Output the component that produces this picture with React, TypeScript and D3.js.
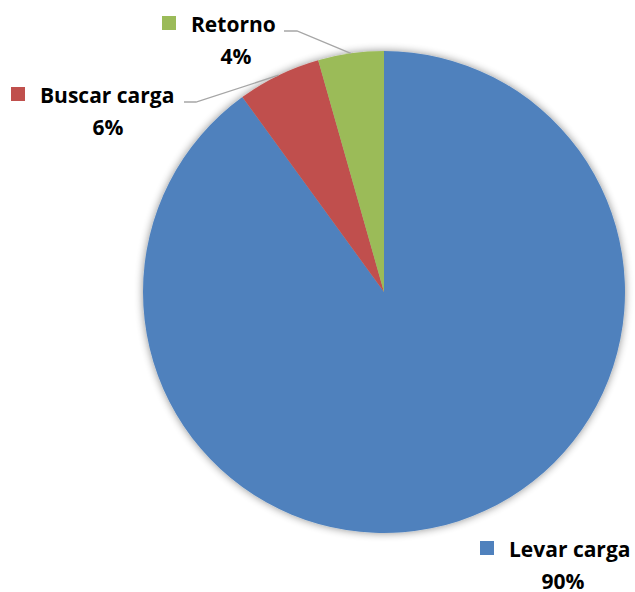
import React from "react";
import * as d3 from "d3";

const categories = ["Levar carga", "Buscar carga", "Retorno"];
const values = [90, 5.6, 4.4];
const percentLabels = ["90%", "6%", "4%"];
const colors = ["#4F81BD", "#C0504D", "#9BBB59"];

// label layout (x = text start, y = baseline of first line)
const labelLayout = [
  { x: 509, y: 557, leader: null as null | number[] },
  { x: 40, y: 103, leader: [184, 196] },
  { x: 191, y: 32, leader: [284, 297] },
];

const W = 635;
const H = 592;
const cx = 384;
const cy = 292;
const R = 241;

export default function App() {
  const pie = d3.pie<number>().sort(null).startAngle(0).endAngle(2 * Math.PI);
  const arcs = pie(values);
  const arc = d3.arc<d3.PieArcDatum<number>>().innerRadius(0).outerRadius(R);
  const font = "'Open Sans', sans-serif";
  return (
    <div style={{ position: "absolute", left: 0, top: 0 }}>
      <svg width={W} height={H} style={{ display: "block", background: "#fff" }}>
        <defs>
          <filter id="sh" x="-20%" y="-20%" width="140%" height="140%">
            <feGaussianBlur in="SourceAlpha" stdDeviation="4" />
            <feComponentTransfer>
              <feFuncA type="linear" slope="0.45" />
            </feComponentTransfer>
            <feMerge>
              <feMergeNode />
              <feMergeNode in="SourceGraphic" />
            </feMerge>
          </filter>
        </defs>
        <g transform={`translate(${cx},${cy})`} filter="url(#sh)">
          {arcs.map((a, i) => (
            <path key={i} d={arc(a) || ""} fill={colors[i]} />
          ))}
        </g>
        {arcs.map((a, i) => {
          const L = labelLayout[i];
          const mid = (a.startAngle + a.endAngle) / 2;
          const ex = cx + Math.sin(mid) * R;
          const ey = cy - Math.cos(mid) * R;
          return (
            <g key={"l" + i}>
              {L.leader && (
                <polyline
                  points={`${L.leader[0]},${L.y - 1} ${L.leader[1]},${L.y - 1} ${ex},${ey}`}
                  fill="none"
                  stroke="#a6a6a6"
                  strokeWidth={1.3}
                />
              )}
              <rect x={L.x - 29} y={L.y - 16} width={14} height={14} fill={colors[i]} />
              <text
                x={L.x}
                y={L.y}
                fontFamily={font}
                fontWeight="bold"
                fontSize={21}
                fill="#000"
              >
                {categories[i]}
              </text>
            </g>
          );
        })}
        {arcs.map((a, i) => {
          const L = labelLayout[i];
          const centers = [563, 108, 236];
          return (
            <text
              key={"p" + i}
              x={centers[i]}
              y={L.y + 32}
              textAnchor="middle"
              fontFamily={font}
              fontWeight="bold"
              fontSize={21}
              fill="#000"
            >
              {percentLabels[i]}
            </text>
          );
        })}
      </svg>
    </div>
  );
}
